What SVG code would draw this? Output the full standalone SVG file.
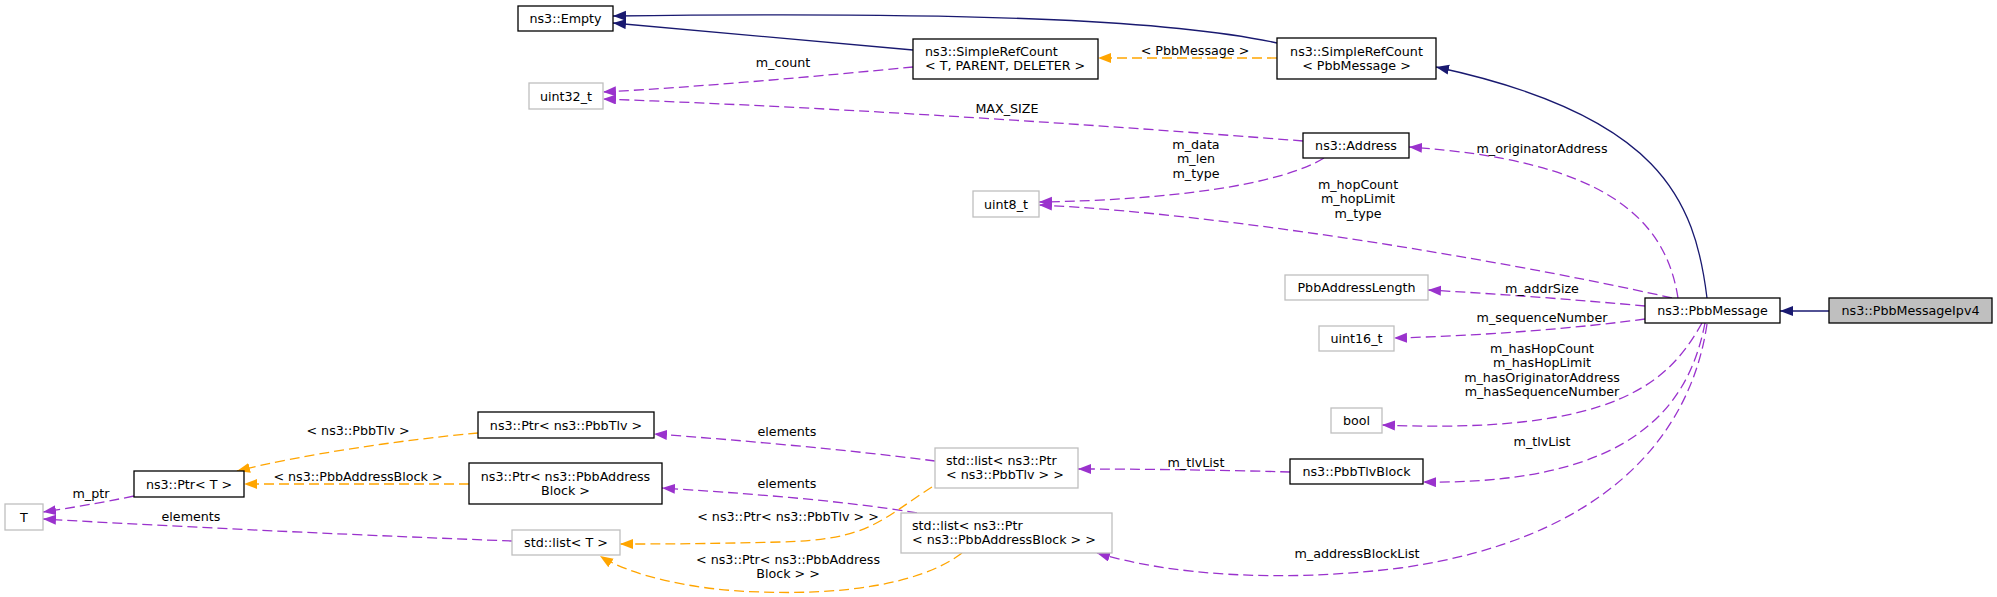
<svg xmlns="http://www.w3.org/2000/svg" width="1997" height="597" viewBox="0 0 1997 597">
<style>
text{font-family:"DejaVu Sans","Liberation Sans",sans-serif;font-size:12.7px;fill:#000}
.c{text-anchor:middle}
.nb{fill:#fff;stroke:#000;stroke-width:1.3}
.ng{fill:#fff;stroke:#bfbfbf;stroke-width:1.3}
.nf{fill:#bfbfbf;stroke:#000;stroke-width:1.3}
.eb{fill:none;stroke:#191970;stroke-width:1.3;marker-end:url(#ab)}
.ep{fill:none;stroke:#9a32cd;stroke-width:1.3;stroke-dasharray:10,5;marker-end:url(#ap)}
.eo{fill:none;stroke:#ffa500;stroke-width:1.3;stroke-dasharray:10,5;marker-end:url(#ao)}
</style>
<defs>
<marker id="ab" markerUnits="userSpaceOnUse" markerWidth="14" markerHeight="11" refX="13" refY="5" orient="auto"><path d="M0,0 L13,5 L0,10 z" fill="#191970"/></marker>
<marker id="ap" markerUnits="userSpaceOnUse" markerWidth="14" markerHeight="11" refX="13" refY="5" orient="auto"><path d="M0,0 L13,5 L0,10 z" fill="#9a32cd"/></marker>
<marker id="ao" markerUnits="userSpaceOnUse" markerWidth="14" markerHeight="11" refX="13" refY="5" orient="auto"><path d="M0,0 L13,5 L0,10 z" fill="#ffa500"/></marker>
</defs>
<rect width="1997" height="597" fill="#fff"/>
<g id="edges">
<path class="eb" d="M1277,43 C1180,22 1000,11 613,16"/>
<path class="eb" d="M913,50 L613,23"/>
<path class="eo" d="M1277,58 L1098,58"/>
<text class="c" x="1195" y="55">&lt; PbbMessage &gt;</text>
<path class="eb" d="M1707,298 C1695,200 1660,115 1436,67"/>
<path class="eb" d="M1829,311 L1780,311"/>
<path class="ep" d="M913,67 C820,76 700,87 603,92"/>
<text class="c" x="783" y="67">m_count</text>
<path class="ep" d="M1303,141 C1100,125 850,108 603,99"/>
<text class="c" x="1007" y="112.5">MAX_SIZE</text>
<path class="ep" d="M1324,158 C1280,185 1170,200 1039,202"/>
<text class="c" x="1196" y="148.5">m_data</text>
<text class="c" x="1196" y="163">m_len</text>
<text class="c" x="1196" y="177.5">m_type</text>
<path class="ep" d="M1678,298 C1665,215 1600,160 1409,147"/>
<text class="c" x="1542" y="152.5">m_originatorAddress</text>
<path class="ep" d="M1672,298 C1550,270 1250,215 1039,205"/>
<text class="c" x="1358" y="188.5">m_hopCount</text>
<text class="c" x="1358" y="203">m_hopLimit</text>
<text class="c" x="1358" y="217.5">m_type</text>
<path class="ep" d="M1645,306 C1580,300 1500,294 1428,290"/>
<text class="c" x="1542" y="292.5">m_addrSize</text>
<path class="ep" d="M1645,319 C1580,328 1480,336 1394,338"/>
<text class="c" x="1542" y="321.5">m_sequenceNumber</text>
<path class="ep" d="M1702,323 C1670,380 1620,435 1382,425"/>
<text class="c" x="1542" y="352.5">m_hasHopCount</text>
<text class="c" x="1542" y="367">m_hasHopLimit</text>
<text class="c" x="1542" y="381.5">m_hasOriginatorAddress</text>
<text class="c" x="1542" y="396">m_hasSequenceNumber</text>
<path class="ep" d="M1705,323 C1690,400 1640,485 1423,482"/>
<text class="c" x="1542" y="445.5">m_tlvList</text>
<path class="ep" d="M1707,324 C1690,440 1600,540 1400,568 C1280,583 1170,575 1097,553"/>
<text class="c" x="1357" y="557.5">m_addressBlockList</text>
<path class="ep" d="M1290,472 C1220,470 1140,469 1078,469"/>
<text class="c" x="1196" y="467">m_tlvList</text>
<path class="ep" d="M935,461 C850,450 740,440 654,434"/>
<text class="c" x="787" y="435.5">elements</text>
<path class="ep" d="M917,513 C840,500 740,493 662,488"/>
<text class="c" x="787" y="487.5">elements</text>
<path class="eo" d="M932,487 C880,520 870,540 780,542 C700,544 660,544 620,544"/>
<text class="c" x="788" y="520.5">&lt; ns3::Ptr&lt; ns3::PbbTlv &gt; &gt;</text>
<path class="eo" d="M962,553 C920,585 840,595 760,592 C690,590 630,575 600,556"/>
<text class="c" x="788" y="563.5">&lt; ns3::Ptr&lt; ns3::PbbAddress</text>
<text class="c" x="788" y="577.5">Block &gt; &gt;</text>
<path class="eo" d="M478,433 C400,440 300,455 237,471"/>
<text class="c" x="358" y="435">&lt; ns3::PbbTlv &gt;</text>
<path class="eo" d="M469,484 L244,484"/>
<text class="c" x="358" y="480.5">&lt; ns3::PbbAddressBlock &gt;</text>
<path class="ep" d="M134,496 C100,503 70,508 43,512"/>
<text class="c" x="91" y="497.5">m_ptr</text>
<path class="ep" d="M512,541 C380,536 200,528 43,519"/>
<text class="c" x="191" y="520.5">elements</text>
</g>
<g id="n_empty"><rect class="nb" x="518" y="6" width="95" height="25"/><text class="c" x="565.5" y="23">ns3::Empty</text></g>
<g id="n_uint32"><rect class="ng" x="529" y="83" width="74" height="26"/><text class="c" x="566" y="100.5">uint32_t</text></g>
<g id="n_src_t"><rect class="nb" x="913" y="39" width="185" height="40"/><text x="925" y="56">ns3::SimpleRefCount</text><text x="925" y="70">&lt; T, PARENT, DELETER &gt;</text></g>
<g id="n_src_pbb"><rect class="nb" x="1277" y="38" width="159" height="41"/><text class="c" x="1356.5" y="55.5">ns3::SimpleRefCount</text><text class="c" x="1356.5" y="69.5">&lt; PbbMessage &gt;</text></g>
<g id="n_address"><rect class="nb" x="1303" y="133" width="106" height="25"/><text class="c" x="1356" y="150">ns3::Address</text></g>
<g id="n_uint8"><rect class="ng" x="973" y="191" width="66" height="26"/><text class="c" x="1006" y="208.5">uint8_t</text></g>
<g id="n_pal"><rect class="ng" x="1285" y="275" width="143" height="25"/><text class="c" x="1356.5" y="292">PbbAddressLength</text></g>
<g id="n_uint16"><rect class="ng" x="1319" y="326" width="75" height="25"/><text class="c" x="1356.5" y="343">uint16_t</text></g>
<g id="n_bool"><rect class="ng" x="1331" y="408" width="51" height="25"/><text class="c" x="1356.5" y="425">bool</text></g>
<g id="n_tlvblock"><rect class="nb" x="1290" y="459" width="133" height="25"/><text class="c" x="1356.5" y="476">ns3::PbbTlvBlock</text></g>
<g id="n_msg"><rect class="nb" x="1645" y="298" width="135" height="25"/><text class="c" x="1712.5" y="315">ns3::PbbMessage</text></g>
<g id="n_ipv4"><rect class="nf" x="1829" y="298" width="163" height="25"/><text class="c" x="1910.5" y="315">ns3::PbbMessageIpv4</text></g>
<g id="n_list_tlv"><rect class="ng" x="935" y="448" width="143" height="40"/><text x="946" y="465">std::list&lt; ns3::Ptr</text><text x="946" y="479">&lt; ns3::PbbTlv &gt; &gt;</text></g>
<g id="n_list_pab"><rect class="ng" x="901" y="513" width="211" height="40"/><text x="912" y="530">std::list&lt; ns3::Ptr</text><text x="912" y="544">&lt; ns3::PbbAddressBlock &gt; &gt;</text></g>
<g id="n_ptr_tlv"><rect class="nb" x="478" y="412" width="176" height="26"/><text class="c" x="566" y="429.5">ns3::Ptr&lt; ns3::PbbTlv &gt;</text></g>
<g id="n_ptr_pab"><rect class="nb" x="469" y="463" width="193" height="41"/><text class="c" x="565.5" y="480.5">ns3::Ptr&lt; ns3::PbbAddress</text><text class="c" x="565.5" y="494.5">Block &gt;</text></g>
<g id="n_ptr_t"><rect class="nb" x="134" y="471" width="110" height="26"/><text class="c" x="189" y="488.5">ns3::Ptr&lt; T &gt;</text></g>
<g id="n_t"><rect class="ng" x="5" y="504" width="38" height="26"/><text class="c" x="24" y="521.5">T</text></g>
<g id="n_list_t"><rect class="ng" x="512" y="530" width="108" height="25"/><text class="c" x="566" y="547">std::list&lt; T &gt;</text></g>
</svg>
